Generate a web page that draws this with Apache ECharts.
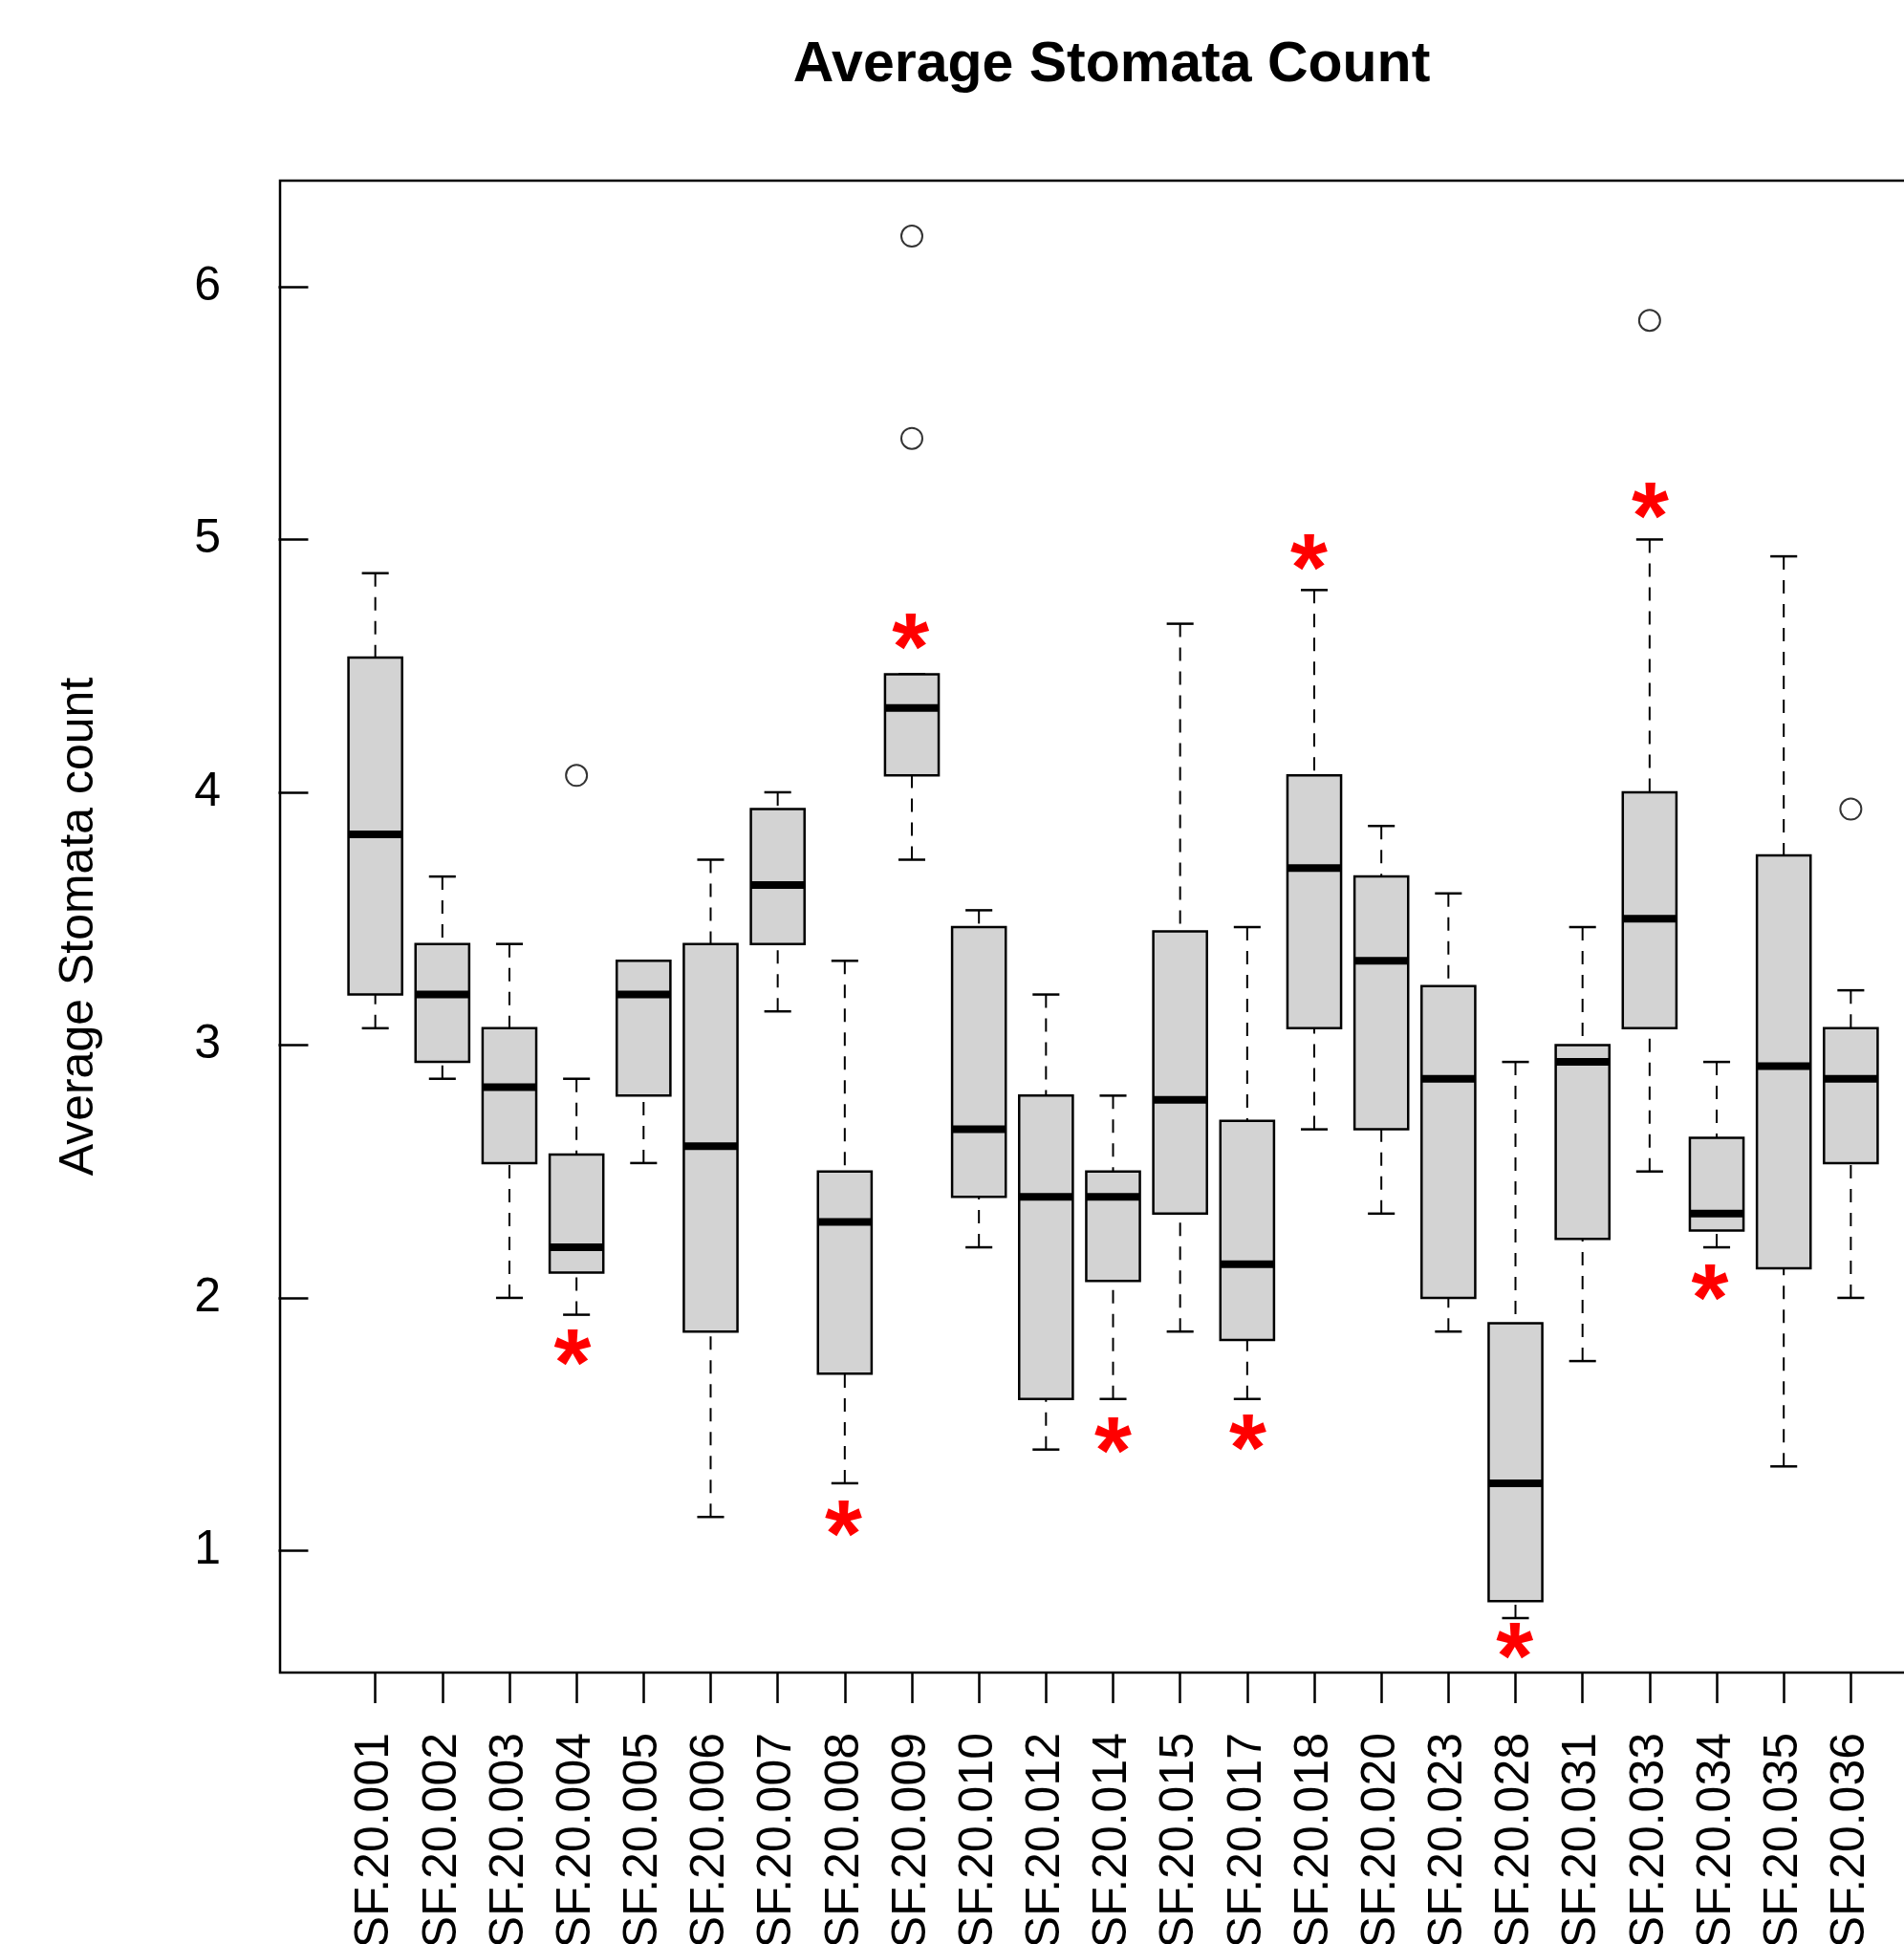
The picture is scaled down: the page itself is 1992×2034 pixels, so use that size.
<!DOCTYPE html>
<html>
<head>
<meta charset="utf-8">
<title>Average Stomata Count</title>
<script src="https://cdn.jsdelivr.net/npm/echarts@6/dist/echarts.min.js"></script>
<style>
html, body { margin: 0; padding: 0; background: #fff; }
#main { width: 1992px; height: 2034px; }
</style>
</head>
<body>
<div id="main"></div>
<script>
var categories = ['SF.20.001', 'SF.20.002', 'SF.20.003', 'SF.20.004', 'SF.20.005', 'SF.20.006',
  'SF.20.007', 'SF.20.008', 'SF.20.009', 'SF.20.010', 'SF.20.012', 'SF.20.014', 'SF.20.015',
  'SF.20.017', 'SF.20.018', 'SF.20.020', 'SF.20.023', 'SF.20.028', 'SF.20.031', 'SF.20.033',
  'SF.20.034', 'SF.20.035', 'SF.20.036'];
var lowerWhisker = [3.0667, 2.8667, 2.0, 1.9333, 2.5333, 1.1333, 3.1333, 1.2667, 3.7333, 2.2, 1.4, 1.6,
  1.8667, 1.6, 2.6667, 2.3333, 1.8667, 0.7333, 1.75, 2.5, 2.2, 1.3333, 2.0];
var q1 = [3.2, 2.9333, 2.5333, 2.1, 2.8, 1.8667, 3.4, 1.7, 4.0667, 2.4, 1.6, 2.0667,
  2.3333, 1.8333, 3.0667, 2.6667, 2.0, 0.8, 2.2333, 3.0667, 2.2667, 2.1167, 2.5333];
var median = [3.8333, 3.2, 2.8333, 2.2, 3.2, 2.6, 3.6333, 2.3, 4.3333, 2.6667, 2.4, 2.4,
  2.7833, 2.1333, 3.7, 3.3333, 2.8667, 1.2667, 2.9333, 3.5, 2.3333, 2.9167, 2.8667];
var q3 = [4.5333, 3.4, 3.0667, 2.5667, 3.3333, 3.4, 3.9333, 2.5, 4.4667, 3.4667, 2.8, 2.5,
  3.45, 2.7, 4.0667, 3.6667, 3.2333, 1.9, 3.0, 4.0, 2.6333, 3.75, 3.0667];
var upperWhisker = [4.8667, 3.6667, 3.4, 2.8667, 3.3333, 3.7333, 4.0, 3.3333, 4.4667, 3.5333, 3.2, 2.8,
  4.6667, 3.4667, 4.8, 3.8667, 3.6, 2.9333, 3.4667, 5.0, 2.9333, 4.9333, 3.2167];
// outliers: [group number, value]
var outliers = [[4, 4.0667], [9, 6.2], [9, 5.4], [20, 5.8667], [23, 3.9333]];
// red significance marks: [group position, value]
var asterisks = [[3.94, 1.802], [7.98, 1.126], [8.98, 4.632], [12, 1.453], [14.01, 1.465],
  [14.92, 4.948], [17.99, 0.642], [20.01, 5.153], [20.9, 2.06]];
var yTicks = [1, 2, 3, 4, 5, 6];

var FONT = '"Liberation Sans", Arial, Helvetica, sans-serif';

var groups = categories.map(function(d, i) { return i + 1; });
var boxData = categories.map(function(d, i) {
  return [i + 1, lowerWhisker[i], q1[i], median[i], q3[i], upperWhisker[i]];
});

function renderBox(params, api) {
  var x = api.value(0);
  var lo = api.coord([x, api.value(1)]);
  var b1 = api.coord([x, api.value(2)]);
  var md = api.coord([x, api.value(3)]);
  var b3 = api.coord([x, api.value(4)]);
  var hi = api.coord([x, api.value(5)]);
  var boxW = api.size([0.8, 0])[0];
  var capW = api.size([0.4, 0])[0];
  var cx = lo[0];
  var dash = {stroke: '#000', lineWidth: 2, lineDash: [14, 11], fill: null};
  var solid = {stroke: '#000', lineWidth: 2.5, fill: null};
  return {
    type: 'group',
    children: [
      {type: 'line', shape: {x1: cx, y1: hi[1], x2: cx, y2: b3[1]}, style: dash},
      {type: 'line', shape: {x1: cx, y1: lo[1], x2: cx, y2: b1[1]}, style: dash},
      {type: 'line', shape: {x1: cx - capW / 2, y1: hi[1], x2: cx + capW / 2, y2: hi[1]}, style: solid},
      {type: 'line', shape: {x1: cx - capW / 2, y1: lo[1], x2: cx + capW / 2, y2: lo[1]}, style: solid},
      {type: 'rect', shape: {x: cx - boxW / 2, y: b3[1], width: boxW, height: b1[1] - b3[1]},
        style: {fill: '#d3d3d3', stroke: '#000', lineWidth: 2.5}},
      {type: 'line', shape: {x1: cx - boxW / 2, y1: md[1], x2: cx + boxW / 2, y2: md[1]},
        style: {stroke: '#000', lineWidth: 8}}
    ]
  };
}

function renderStar(params, api) {
  var p = api.coord([api.value(0), api.value(1)]);
  return {
    type: 'text',
    x: p[0],
    y: p[1] + 22,
    style: {
      text: '*',
      fill: '#ff0000',
      font: 'bold 100px ' + FONT,
      textAlign: 'center',
      textVerticalAlign: 'middle'
    }
  };
}

var myChart = echarts.init(document.getElementById('main'), null, {renderer: 'canvas'});
var option = {
  animation: false,
  backgroundColor: '#fff',
  title: {
    text: 'Average Stomata Count',
    left: 1158,
    top: 34,
    textAlign: 'center',
    textStyle: {fontFamily: FONT, fontSize: 59, fontWeight: 'bold', color: '#000'}
  },
  grid: {
    left: 293,
    top: 189,
    width: 1743,
    height: 1561,
    outerBoundsMode: 'none',
    containLabel: false,
    show: true,
    borderColor: '#000',
    borderWidth: 2.5,
    backgroundColor: 'transparent'
  },
  xAxis: {
    type: 'value',
    min: -0.42,
    max: 24.42,
    axisLine: {show: false},
    splitLine: {show: false},
    axisTick: {show: true, length: 32, customValues: groups, lineStyle: {color: '#000', width: 2.5}},
    axisLabel: {
      customValues: groups,
      rotate: 90,
      margin: 63,
      fontFamily: FONT,
      fontSize: 50,
      color: '#000',
      formatter: function(v) { return categories[Math.round(v) - 1] || ''; }
    }
  },
  yAxis: {
    type: 'value',
    min: 0.5178,
    max: 6.4195,
    name: 'Average Stomata count',
    nameLocation: 'middle',
    nameRotate: 90,
    nameGap: 185,
    nameTextStyle: {fontFamily: FONT, fontSize: 50, color: '#000'},
    axisLine: {show: false},
    splitLine: {show: false},
    axisTick: {show: true, length: 31, customValues: yTicks, lineStyle: {color: '#000', width: 2.5}},
    axisLabel: {
      customValues: yTicks,
      margin: 62,
      fontFamily: FONT,
      fontSize: 50,
      color: '#000'
    }
  },
  series: [
    {
      name: 'box',
      type: 'custom',
      renderItem: renderBox,
      encode: {x: 0, y: [1, 2, 3, 4, 5]},
      data: boxData,
      z: 2
    },
    {
      name: 'outliers',
      type: 'scatter',
      symbol: 'circle',
      symbolSize: 22,
      itemStyle: {color: 'rgba(0,0,0,0)', borderColor: '#000', borderWidth: 2},
      data: outliers,
      z: 3
    },
    {
      name: 'significant',
      type: 'custom',
      renderItem: renderStar,
      data: asterisks,
      z: 4
    }
  ]
};
myChart.setOption(option);
</script>
</body>
</html>
